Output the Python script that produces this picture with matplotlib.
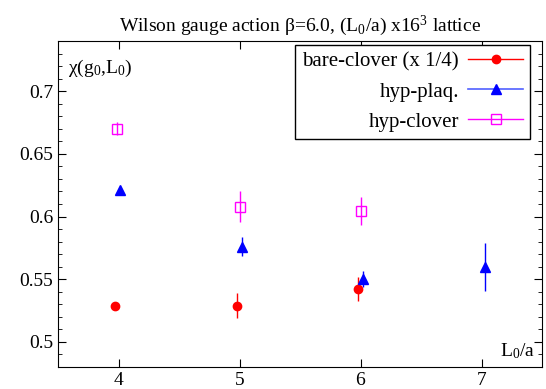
import matplotlib
matplotlib.use('Agg')
import matplotlib.pyplot as plt
from matplotlib.ticker import MultipleLocator
from matplotlib.lines import Line2D

plt.rcParams['font.family'] = ['Liberation Serif', 'DejaVu Serif']
plt.rcParams['mathtext.fontset'] = 'custom'
plt.rcParams['mathtext.rm'] = 'Liberation Serif'
plt.rcParams['mathtext.it'] = 'Liberation Serif'

# data
bare_x = [3.97, 4.98, 5.98]
bare_y = [0.529, 0.529, 0.542]
bare_err = [0.002, 0.010, 0.0095]

plaq_x = [4.01, 5.02, 6.02, 7.03]
plaq_y = [0.621, 0.576, 0.550, 0.560]
plaq_err = [0.002, 0.0075, 0.0065, 0.019]

clov_x = [3.99, 5.0, 6.0]
clov_y = [0.670, 0.608, 0.6045]
clov_err = [0.005, 0.012, 0.011]

labels = ['bare-clover (x 1/4)', 'hyp-plaq.', 'hyp-clover']

fig = plt.figure(figsize=(5.46, 3.89), dpi=100)
ax = fig.add_axes([58/546, 1-367/389, (542-58)/546, (367-41)/389])

ax.errorbar(bare_x, bare_y, yerr=bare_err, fmt='o', color='red', ms=6, elinewidth=1,
            capsize=0)
ax.errorbar(plaq_x, plaq_y, yerr=plaq_err, fmt='^', color='blue', ms=7, elinewidth=1,
            capsize=0)
ax.errorbar(clov_x, clov_y, yerr=clov_err, fmt='s', color='magenta', mfc='none', ms=7,
            elinewidth=1, capsize=0)

ax.set_xlim(3.5, 7.5)
ax.set_ylim(0.48, 0.74)
ax.set_xticks([4, 5, 6, 7])
ax.yaxis.set_minor_locator(MultipleLocator(0.01))
ax.set_yticks([0.5, 0.55, 0.6, 0.65, 0.7])
ax.set_yticklabels(['0.5', '0.55', '0.6', '0.65', '0.7'])
ax.tick_params(which='both', direction='in', top=True, right=True, labelsize=14)
ax.tick_params(which='major', length=6)
ax.tick_params(which='minor', length=3)

ax.text(0.02, 0.915, 'χ(g$_0$,L$_0$)', transform=ax.transAxes, fontsize=14,
        va='center', ha='left')
ax.text(0.985, 0.05, 'L$_0$/a', transform=ax.transAxes, fontsize=14,
        va='center', ha='right')

ax.set_title('Wilson gauge action β=6.0, (L$_0$/a) x16$^3$ lattice', fontsize=14, pad=7)

# gnuplot-style legend keys: line through the marker
handles = [
    Line2D([], [], color='red', marker='o', ms=6, lw=1),
    Line2D([], [], color='#5060ff', marker='^', ms=7, mfc='blue', mec='blue', lw=1.2),
    Line2D([], [], color='magenta', marker='s', ms=7, mfc='none', lw=1),
]
leg = ax.legend(handles, labels, loc='upper right', markerfirst=False, fontsize=15,
                frameon=True, fancybox=False, edgecolor='black', framealpha=1,
                borderpad=0.35, handlelength=2.6, labelspacing=0.5,
                handletextpad=0.45, borderaxespad=0, bbox_to_anchor=(0.975, 0.988))
leg.get_frame().set_linewidth(1)
leg._legend_box.align = 'right'
for t in leg.get_texts():
    t.set_ha('right')

fig.savefig('out.png', dpi=100)
